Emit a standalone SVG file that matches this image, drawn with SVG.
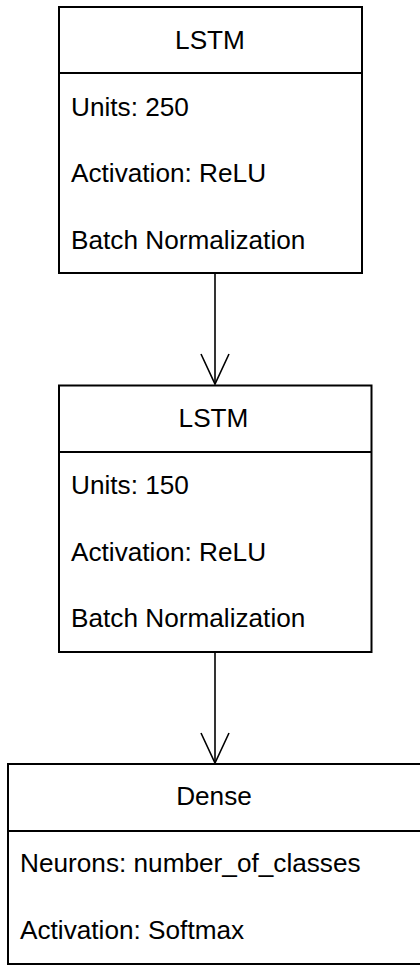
<svg xmlns="http://www.w3.org/2000/svg" width="420" height="965" viewBox="0 0 420 965">
  <style>
    .box { fill: #ffffff; stroke: #000000; stroke-width: 2; }
    .sep { stroke: #000000; stroke-width: 2; }
    .edge { stroke: #000000; stroke-width: 1.6; fill: none; }
    text { font-family: "Liberation Sans", Arial, Helvetica, sans-serif; font-size: 26.2px; fill: #000000; }
    .title { text-anchor: middle; }
  </style>
  <rect width="420" height="965" fill="#ffffff"/>

  <!-- first recurrent layer -->
  <g id="lstm1">
    <rect class="box" x="59" y="7" width="303" height="266"/>
    <line class="sep" x1="59" y1="73" x2="362" y2="73"/>
    <text class="title" x="210" y="48.5">LSTM</text>
    <text x="71" y="115.5">Units: 250</text>
    <text x="71" y="182">Activation: ReLU</text>
    <text x="71" y="248.5">Batch Normalization</text>
  </g>

  <!-- second recurrent layer -->
  <g id="lstm2">
    <rect class="box" x="59" y="385.5" width="312.5" height="266.5"/>
    <line class="sep" x1="59" y1="452" x2="371.5" y2="452"/>
    <text class="title" x="213.5" y="427">LSTM</text>
    <text x="71" y="494">Units: 150</text>
    <text x="71" y="560.5">Activation: ReLU</text>
    <text x="71" y="627">Batch Normalization</text>
  </g>

  <!-- output layer -->
  <g id="dense">
    <rect class="box" x="8" y="764" width="413" height="200"/>
    <line class="sep" x1="8" y1="831" x2="421" y2="831"/>
    <text class="title" x="214" y="805">Dense</text>
    <text x="20" y="871.5">Neurons: number_of_classes</text>
    <text x="20" y="938.5">Activation: Softmax</text>
  </g>

  <!-- connectors with open arrowheads -->
  <g id="connectors">
    <path class="edge" d="M215 273 V384"/>
    <path class="edge" d="M201 354 L215 384 L229 354"/>
    <path class="edge" d="M215 652 V763"/>
    <path class="edge" d="M201 733 L215 763 L229 733"/>
  </g>
</svg>
